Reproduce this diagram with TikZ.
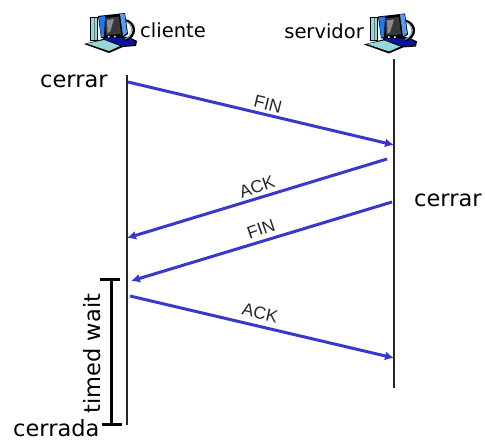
\documentclass[tikz,border=0pt]{standalone}
\usepackage{fontspec}
\setmainfont{DejaVu Sans}
\newfontfamily\msgfont{Liberation Sans}
\usetikzlibrary{arrows.meta}
\definecolor{msgblue}{RGB}{56,56,205}
\definecolor{pcblue}{RGB}{30,120,240}
\definecolor{pcnavy}{RGB}{10,20,150}
\definecolor{pcteal}{RGB}{150,215,215}
\tikzset{
  x=1pt,y=-1pt,
  timeline/.style={draw=black!85,line width=1.6pt},
  msg/.style={draw=msgblue,line width=3pt,-{Latex[length=9pt,width=9pt]}},
  msglabel/.style={font=\msgfont\fontsize{17.5}{17.5}\selectfont,inner sep=0pt,text=black!85},
  namelabel/.style={font=\fontsize{19.5}{20}\selectfont,inner sep=0pt,text=black},
  endlabel/.style={font=\fontsize{22.5}{23}\selectfont,inner sep=0pt,text=black},
  waitbar/.style={draw=black,line width=3pt},
  pics/computer/.style={code={
    % tower
    \fill[black] (5,4) rectangle (13,28);
    \fill[pcteal] (6,5) rectangle (12,27);
    \fill[pcteal!60!black] (8.5,5) rectangle (9.2,27);
    % stand and base
    \fill[black] (18,22) -- (44,24) -- (52,28) -- (51,33) -- (38,34) -- (24,40) -- (-1,31) -- (18,26) -- cycle;
    \fill[pcnavy] (20,24) -- (44,25) -- (50,29) -- (49,32) -- (37,33) -- (28,29) -- (20,28) -- cycle;
    % keyboard
    \fill[pcteal] (2,30.5) -- (19,27) -- (35,33) -- (24,38) -- cycle;
    % cable loop
    \draw[black,line width=2.4pt] (39,7) .. controls (52,9) and (52,24) .. (40,27);
    \draw[pcteal!80!black,line width=1pt] (39,8) .. controls (49,10) and (49,23) .. (40,26);
    % monitor
    \fill[black] (13,3) -- (40,0) -- (43,21) -- (37,25) -- (16,25) -- cycle;
    \fill[pcblue] (14,4) -- (20,3) -- (19,24) -- (16,24) -- cycle;
    \fill[pcblue!75!white] (35,1) -- (39.5,1) -- (42,20) -- (38,23) -- cycle;
    \fill[black!78] (20,5) -- (34,3.5) -- (36,21) -- (21,22) -- cycle;
    \fill[black!45] (22,7) -- (29,6) -- (25,19) -- (22.5,20) -- cycle;
    \fill[white] (23,23) rectangle (24.5,24.5) (29,23) rectangle (30.5,24.5);
  }}
}
\begin{document}
\begin{tikzpicture}
\useasboundingbox (0,0) rectangle (485,441);
% icons
\pic at (85,13) {computer};
\pic at (365,13.5) {computer};
% labels
\node[namelabel,anchor=base west] (cl) at (140,38) {cliente};
\node[namelabel,anchor=base east] (sv) at (364,39) {servidor};
\node[endlabel,anchor=base west] (c1) at (40,88) {cerrar};
\node[endlabel,anchor=base west] (c2) at (414,207) {cerrar};
\node[endlabel,anchor=base west] (c3) at (13,436) {cerrada};
% timelines
\coordinate (ctop) at (127,75);
\coordinate (cbot) at (127,425);
\coordinate (stop) at (394,59);
\coordinate (sbot) at (394,388);
\draw[timeline] (ctop) -- (cbot);
\draw[timeline] (stop) -- (sbot);
% messages
\coordinate (m1a) at (128,82);  \coordinate (m1b) at (394,145);
\coordinate (m2a) at (387,159); \coordinate (m2b) at (127,238);
\coordinate (m3a) at (392,202); \coordinate (m3b) at (131,281);
\coordinate (m4a) at (130,296); \coordinate (m4b) at (394,358);
\draw[msg] (m1a) -- (m1b);
\draw[msg] (m2a) -- (m2b);
\draw[msg] (m3a) -- (m3b);
\draw[msg] (m4a) -- (m4b);
\node[msglabel,rotate=-14] (l1) at (268,104) {FIN};
\node[msglabel,rotate=19] (l2) at (257,187) {ACK};
\node[msglabel,rotate=19] (l3) at (261,229) {FIN};
\node[msglabel,rotate=-13] (l4) at (260,313) {ACK};
% timed wait
\coordinate (wt) at (111,280);
\coordinate (wb) at (111,424);
\coordinate (wtl) at (100,279.5); \coordinate (wtr) at (120,279.5);
\coordinate (wbl) at (102,424); \coordinate (wbr) at (122,424);
\draw[waitbar] (wt) -- (wb);
\draw[waitbar] (wtl) -- (wtr);
\draw[waitbar] (wbl) -- (wbr);
\node[endlabel,rotate=90,anchor=base] (tw) at (100,353.5) {timed wait};
\end{tikzpicture}
\end{document}
